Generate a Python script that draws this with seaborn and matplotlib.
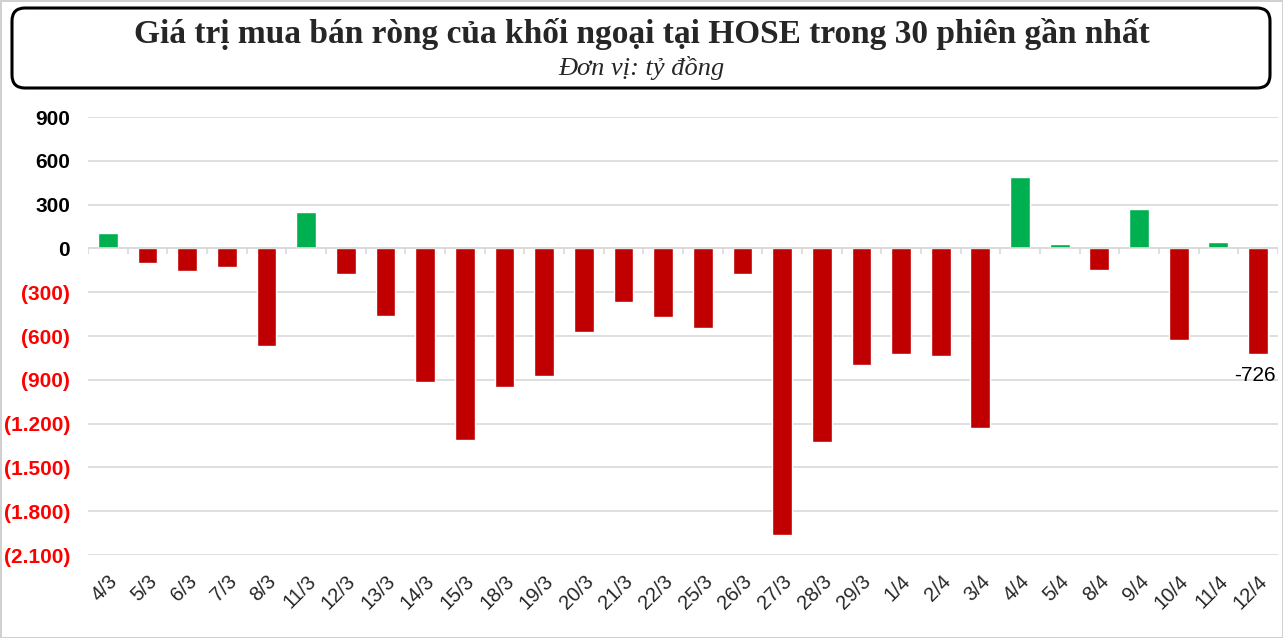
import numpy as np
import pandas as pd
import seaborn as sns
import matplotlib.pyplot as plt
from matplotlib.patches import FancyBboxPatch
from matplotlib.ticker import FuncFormatter

sessions = ["4/3", "5/3", "6/3", "7/3", "8/3", "11/3", "12/3", "13/3", "14/3", "15/3",
            "18/3", "19/3", "20/3", "21/3", "22/3", "25/3", "26/3", "27/3", "28/3", "29/3",
            "1/4", "2/4", "3/4", "4/4", "5/4", "8/4", "9/4", "10/4", "11/4", "12/4"]
net_values = [103, -103, -158, -130, -666, 247, -172, -460, -913, -1311,
              -947, -872, -570, -364, -467, -542, -178, -1963, -1325, -796,
              -721, -735, -1229, 487, 27, -151, 268, -625, 41, -726]
y_ticks = [900, 600, 300, 0, -300, -600, -900, -1200, -1500, -1800, -2100]

GREEN = "#00B050"
RED = "#C00000"

df = pd.DataFrame({"session": sessions, "value": net_values})
df["side"] = np.where(df["value"] >= 0, "buy", "sell")

sns.set_style("white")
plt.rcParams["font.family"] = ["Liberation Sans", "DejaVu Sans"]

fig = plt.figure(figsize=(12.83, 6.38), dpi=100)
fig.patch.set_edgecolor("#d0d0d0")
fig.patch.set_linewidth(2)
ax = fig.add_axes([0.0686, 0.130, 0.9274, 0.6866])

sns.barplot(data=df, x="session", y="value", hue="side",
            palette={"buy": GREEN, "sell": RED}, dodge=False, width=0.5,
            legend=False, ax=ax, saturation=1)

ax.set_ylim(-2100, 900)
ax.set_xlim(-0.5, len(sessions) - 0.5)
ax.set_yticks(y_ticks)
ax.yaxis.grid(True, color="#d9d9d9", linewidth=1.2)
ax.set_axisbelow(True)
for s in ax.spines.values():
    s.set_visible(False)

def fmt(v, pos):
    txt = f"{abs(v):,.0f}".replace(",", ".")
    return f"({txt})" if v < 0 else txt

ax.yaxis.set_major_formatter(FuncFormatter(fmt))
ax.tick_params(axis="y", length=0, pad=13, labelsize=15)
for lab, v in zip(ax.get_yticklabels(), y_ticks):
    lab.set_fontweight("bold")
    lab.set_color("#FF0000" if v < 0 else "black")

ax.tick_params(axis="x", length=0, pad=12, labelsize=14.5)
plt.setp(ax.get_xticklabels(), rotation=45, ha="right", rotation_mode="anchor")
ax.set_xlabel("")
ax.set_ylabel("")

# zero line with category separators
ax.axhline(0, color="#d9d9d9", linewidth=1.2, zorder=1)
ax.vlines(np.arange(len(sessions) + 1) - 0.5, -38, 0, color="#d9d9d9", linewidth=1.2, zorder=1)

# label on last bar
ax.annotate(f"{net_values[-1]:.0f}", xy=(len(sessions) - 1, net_values[-1]),
            xytext=(-2, -8), textcoords="offset points", ha="center", va="top",
            fontsize=15, color="black")

# title box
box = FancyBboxPatch((0.12, 5.50), 12.58, 0.80, boxstyle="round,pad=0,rounding_size=0.13",
                     transform=fig.dpi_scale_trans, facecolor="white", edgecolor="black",
                     linewidth=2.2)
fig.patches.append(box)
fig.text(0.5, 0.947, "Giá trị mua bán ròng của khối ngoại tại HOSE trong 30 phiên gần nhất",
         ha="center", va="center", fontsize=24, fontweight="bold",
         family=["Liberation Serif", "DejaVu Serif"])
fig.text(0.5, 0.893, "Đơn vị: tỷ đồng", ha="center", va="center", fontsize=19,
         style="italic", family=["Liberation Serif", "DejaVu Serif"])

fig.savefig("out.png", dpi=100)
